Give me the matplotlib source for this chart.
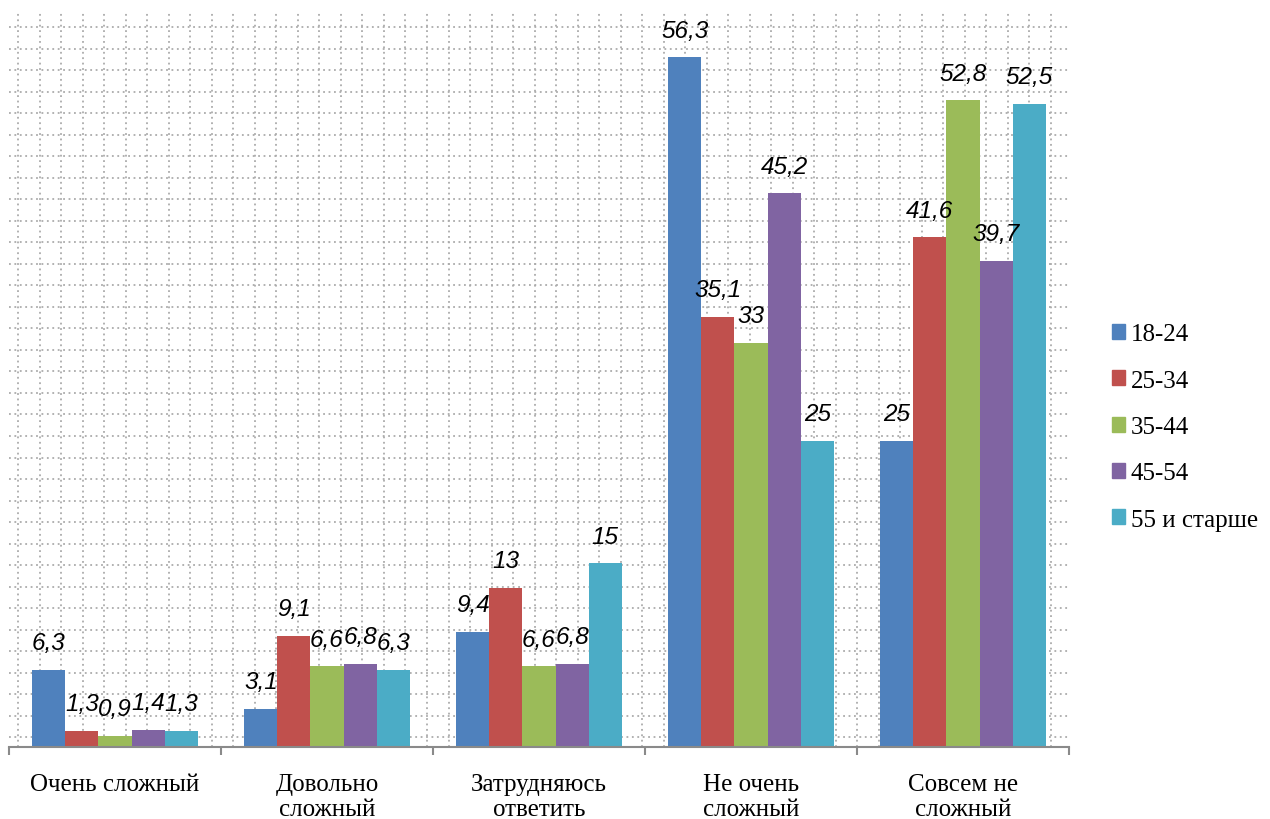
import numpy as np
import matplotlib.pyplot as plt
from matplotlib.patches import Patch

categories = ['Очень сложный', 'Довольно\nсложный', 'Затрудняюсь\nответить',
              'Не очень\nсложный', 'Совсем не\nсложный']
groups = ['18-24', '25-34', '35-44', '45-54', '55 и старше']
v_18_24 = [6.3, 3.1, 9.4, 56.3, 25]
v_25_34 = [1.3, 9.1, 13, 35.1, 41.6]
v_35_44 = [0.9, 6.6, 6.6, 33, 52.8]
v_45_54 = [1.4, 6.8, 6.8, 45.2, 39.7]
v_55 = [1.3, 6.3, 15, 25, 52.5]
series = [v_18_24, v_25_34, v_35_44, v_45_54, v_55]
colors = ['#4F81BD', '#C0504D', '#9BBB59', '#8064A2', '#4BACC6']

fig = plt.figure(figsize=(12.7, 8.2), dpi=100)
ax = fig.add_axes([9 / 1270, 72 / 820, 1060 / 1270, 735 / 820])
ax.set_xlim(-0.5, 4.5)
ax.set_ylim(0, 60)

# dotted background grid
dot = dict(color='#ababab', lw=1.3, linestyle=(0, (1, 2.0)), zorder=0)
for y in np.linspace(0.79, 58.77, 34):
    ax.axhline(y, **dot)
for x in np.linspace(-0.456, 4.414, 49):
    ax.axvline(x, **dot)

x = np.arange(len(categories))
w = 0.156
for i, (vals, c) in enumerate(zip(series, colors)):
    pos = x + (i - 2) * w
    ax.bar(pos, vals, width=w, color=c, zorder=2)
    for px, v in zip(pos, vals):
        ax.annotate(f'{v:g}'.replace('.', ','), (px, v), xytext=(0, 19.5),
                    textcoords='offset points', ha='center', va='center',
                    fontsize=17.5, fontstyle='italic', family='Liberation Sans')

for s in ['left', 'right', 'top']:
    ax.spines[s].set_visible(False)
ax.spines['bottom'].set_color('#8a8a8a')
ax.spines['bottom'].set_linewidth(1.5)
ax.set_yticks([])
ax.set_xticks(x)
ax.set_xticklabels(categories, family='Liberation Serif', fontsize=18, linespacing=1.17)
ax.tick_params(axis='x', which='major', length=0, pad=18.5)
ax.set_xticks(np.arange(-0.5, 5, 1), minor=True)
ax.tick_params(axis='x', which='minor', length=6, width=1.5, color='#8a8a8a')

handles = [Patch(color=c) for c in colors]
fig.legend(handles, groups, loc='center left', bbox_to_anchor=(1089 / 1270, 392 / 820),
           frameon=False, prop={'family': 'Liberation Serif', 'size': 18},
           handlelength=0.55, handleheight=0.55, handletextpad=0.22, labelspacing=0.97)

fig.savefig('out.png', dpi=100)
